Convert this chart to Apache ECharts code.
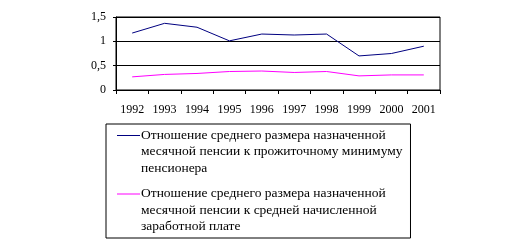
<!DOCTYPE html>
<html>
<head>
<meta charset="utf-8">
<script src="https://cdn.jsdelivr.net/npm/echarts@6/dist/echarts.min.js"></script>
<style>html,body{margin:0;padding:0;background:#fff}#c{width:521px;height:242px}</style>
</head>
<body>
<div id="c"></div>
<script>
var categories = ['1992','1993','1994','1995','1996','1997','1998','1999','2000','2001'];
var seriesNames = [
  'Отношение среднего размера назначенной\nмесячной пенсии к прожиточному минимуму\nпенсионера',
  'Отношение среднего размера назначенной\nмесячной пенсии к средней начисленной\nзаработной плате'
];
var pensionToMinimum = [1.17, 1.37, 1.29, 1.01, 1.15, 1.13, 1.15, 0.70, 0.75, 0.90];
var pensionToWage = [0.27, 0.32, 0.34, 0.38, 0.39, 0.36, 0.38, 0.29, 0.31, 0.31];
var yTicks = [0, 0.5, 1, 1.5];

var font = '"Liberation Serif","Times New Roman",serif';
var chart = echarts.init(document.getElementById('c'), null, {renderer: 'canvas'});
var iconPath = 'path://M0,0H0.01V0.01H0Z M0,7.7H23V8.8H0Z M0,49H0.01V49.01H0Z';
chart.setOption({
  animation: false,
  backgroundColor: '#fff',
  grid: {left: 116, right: 81, top: 17, bottom: 152, show: true, borderColor: '#000', borderWidth: 1},
  xAxis: {
    type: 'category', data: categories, boundaryGap: true,
    axisLine: {lineStyle: {color: '#000', width: 1}},
    axisTick: {show: true, length: 4, interval: 0, lineStyle: {color: '#000'}},
    axisLabel: {color: '#000', fontFamily: font, fontSize: 12, margin: 14, interval: 0}
  },
  yAxis: {
    type: 'value', min: 0, max: 1.5, interval: 0.5,
    axisLine: {show: true, lineStyle: {color: '#000', width: 1}},
    axisTick: {show: true, length: 3, lineStyle: {color: '#000'}},
    splitLine: {show: true, lineStyle: {color: '#000', width: 1}},
    axisLabel: {color: '#000', fontFamily: font, fontSize: 12, margin: 10, padding: [4, 0, 0, 0],
      formatter: function (v) { return String(v).replace('.', ','); }}
  },
  legend: {
    orient: 'vertical', left: 106, top: 124, width: 309, height: 112,
    padding: [3, 8, 3, 11], itemGap: 9,
    borderColor: '#000', borderWidth: 1,
    itemWidth: 23, itemHeight: 49.5, itemStyle: {borderWidth: 0},
    data: [{name: seriesNames[0], icon: iconPath}, {name: seriesNames[1], icon: iconPath}],
    textStyle: {color: '#000', fontFamily: font, fontSize: 13.5, lineHeight: 16.5, padding: [0, 0, 0, -4]}
  },
  series: [
    {name: seriesNames[0], type: 'line', data: pensionToMinimum, symbol: 'none',
      lineStyle: {color: '#000080', width: 1}, itemStyle: {color: '#000080'}},
    {name: seriesNames[1], type: 'line', data: pensionToWage, symbol: 'none',
      lineStyle: {color: '#FF00FF', width: 1}, itemStyle: {color: '#FF00FF'}}
  ]
});
</script>
</body>
</html>
